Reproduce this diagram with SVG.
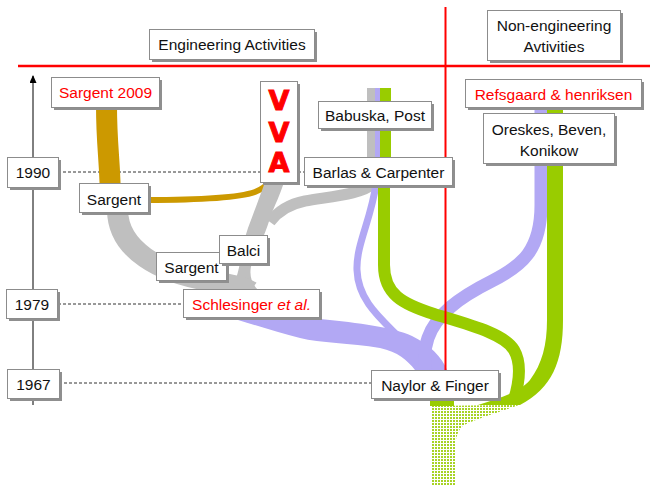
<svg xmlns="http://www.w3.org/2000/svg" width="650" height="486" viewBox="0 0 650 486">
  <style>
    .box { fill: #ffffff; stroke: #8c8c8c; stroke-width: 1; }
    .shadow { fill: #8f8f8f; }
    .t { font-family: "Liberation Sans", Arial, sans-serif; font-size: 15.5px; fill: #111111; text-anchor: middle; }
    .red { fill: #ff0000; }
    .vva { font-family: "DejaVu Sans", sans-serif; font-weight: bold; font-size: 27px; fill: #ff0000; stroke: #ff0000; stroke-width: 1; text-anchor: middle; }
    .dash { stroke: #333333; stroke-width: 1; stroke-dasharray: 3 2; fill: none; }
    .s { fill: none; stroke-linecap: butt; }
    .gold { stroke: #cc9900; }
    .gray { stroke: #bfbfbf; }
    .lav { stroke: #b2a8f4; }
    .grn { stroke: #99cc00; }
  </style>
  <defs>
    <pattern id="dots" width="3" height="3" patternUnits="userSpaceOnUse">
      <rect width="2" height="2" fill="#99cc00" fill-opacity="0.85"/>
    </pattern>
    <marker id="arrow" markerWidth="8" markerHeight="7" refX="7" refY="3.5" orient="auto" markerUnits="userSpaceOnUse">
      <path d="M0,0 L8,3.5 L0,7 Z" fill="#000000"/>
    </marker>
  </defs>

  <!-- time axis and guide lines -->
  <g id="axis">
    <line x1="33" y1="405" x2="33" y2="76" stroke="#000000" stroke-width="1" marker-end="url(#arrow)"/>
    <line class="dash" x1="58" y1="172" x2="304" y2="172"/>
    <line class="dash" x1="58" y1="304" x2="183" y2="304"/>
    <line class="dash" x1="59" y1="383" x2="371" y2="383"/>
  </g>

  <!-- streams -->
  <g id="connectors">
    <!-- gold -->
    <path class="s gold" stroke-width="21" d="M106.5,105 C106.5,150 110.5,160 110.5,206"/>
    <path class="s gold" stroke-width="6" d="M146,200 C190,200 235,199 255,192 C263,189 268,184 271,180"/>

    <!-- gray -->
    <path fill="#bfbfbf" d="M265,182 L284,182 C280,195 275,205 271,215 C266,232 258,250 252,263 C249,272 250,282 258,290 L230,290 C236,282 238,272 240,263 C242,250 244,240 248,228 C254,212 260,196 265,182 Z"/>
    <path class="s gray" stroke-width="11" d="M373,184 C362,194 335,196 305,201 C290,204 278,211 270,222"/>
    <path class="s gray" stroke-width="21" d="M117.5,210 C118,250 160,273 210,281 C230,284 245,287 250,291"/>
    <rect x="367" y="88" width="8" height="98" fill="#bfbfbf"/>

    <!-- lavender -->
    <rect x="375" y="88" width="5" height="98" fill="#b2a8f4"/>
    <path fill="#b2a8f4" d="M235,315 L320,319 C360,323 392,327 412,336 C430,345 442,357 447,370 L415,370 C407,360 398,352 380,348 C350,343 320,343 300,338 C280,333 258,326 238,320 Z"/>
    <path class="s lav" stroke-width="7" d="M376,184 C371,220 356,245 357,270 C358,300 380,318 398,336"/>
    <path class="s lav" stroke-width="13" d="M541,105 L541,205 C541,250 522,266 492,281 C458,298 436,315 428,338 C424,350 424,362 426,370"/>

    <!-- green -->
    <rect x="380" y="88" width="11" height="98" fill="#99cc00"/>
    <path class="s grn" stroke-width="12" d="M384,184 L384,265 C384,294 402,304 434,314 C470,325 505,334 514,350 C521,362 520,380 514,400"/>
    <path fill="#99cc00" d="M547,105 L563,105 L563,320 C563,362 552,388 520,405 L478,405 C500,398 520,392 530,380 C542,364 547,345 547,320 Z"/>
    <rect x="430" y="396" width="24" height="10" fill="#99cc00"/>
    <path fill="url(#dots)" d="M431,406 L519,405 C500,412 478,418 464,425 C457,430 455,440 455,452 L455,486 L431,486 Z"/>
  </g>

  <!-- section dividers -->
  <g id="dividers">
    <line x1="18" y1="66" x2="650" y2="66" stroke="#ff0000" stroke-width="2.5"/>
    <line x1="445.5" y1="7" x2="445.5" y2="370" stroke="#ff0000" stroke-width="2"/>
  </g>

  <!-- headers -->
  <g id="hdr-engineering">
    <rect class="shadow" x="152" y="32" width="165" height="30"/>
    <rect class="box" x="149.5" y="29.5" width="165" height="30"/>
    <text class="t" x="232" y="49.5">Engineering Activities</text>
  </g>
  <g id="hdr-nonengineering">
    <rect class="shadow" x="490" y="13" width="133" height="50"/>
    <rect class="box" x="487.5" y="10.5" width="133" height="50"/>
    <text class="t" x="554" y="30.5">Non-engineering</text>
    <text class="t" x="554" y="51.5">Avtivities</text>
  </g>

  <!-- years -->
  <g id="y1990">
    <rect class="shadow" x="10" y="160" width="51" height="30"/>
    <rect class="box" x="7.5" y="157.5" width="51" height="30"/>
    <text class="t" x="33" y="177.5">1990</text>
  </g>
  <g id="y1979">
    <rect class="shadow" x="9" y="292" width="51" height="29"/>
    <rect class="box" x="6.5" y="289.5" width="51" height="29"/>
    <text class="t" x="32" y="309.5">1979</text>
  </g>
  <g id="y1967">
    <rect class="shadow" x="10" y="372" width="52" height="29"/>
    <rect class="box" x="7.5" y="369.5" width="52" height="29"/>
    <text class="t" x="33.5" y="389.5">1967</text>
  </g>

  <!-- engineering nodes -->
  <g id="sargent2009">
    <rect class="shadow" x="54" y="80" width="108" height="30"/>
    <rect class="box" x="51.5" y="77.5" width="108" height="30"/>
    <text class="t red" x="105.5" y="98">Sargent 2009</text>
  </g>
  <g id="vva">
    <rect class="shadow" x="263" y="84" width="37" height="101"/>
    <rect class="box" x="260.5" y="81.5" width="37" height="101"/>
    <text class="vva" x="279" y="110">V</text>
    <text class="vva" x="279" y="142">V</text>
    <text class="vva" x="279" y="172">A</text>
  </g>
  <g id="babuska">
    <rect class="shadow" x="321" y="104" width="113" height="27"/>
    <rect class="box" x="318.5" y="101.5" width="113" height="27"/>
    <text class="t" x="375" y="120.5">Babuska, Post</text>
  </g>
  <g id="barlas">
    <rect class="shadow" x="307" y="160" width="148" height="28"/>
    <rect class="box" x="304.5" y="157.5" width="148" height="28"/>
    <text class="t" x="378.5" y="177.5">Barlas &amp; Carpenter</text>
  </g>
  <g id="sargent-a">
    <rect class="shadow" x="82" y="186" width="69" height="29"/>
    <rect class="box" x="79.5" y="183.5" width="69" height="29"/>
    <text class="t" x="114" y="204.5">Sargent</text>
  </g>
  <g id="sargent-b">
    <rect class="shadow" x="159" y="255" width="70" height="28"/>
    <rect class="box" x="156.5" y="252.5" width="70" height="28"/>
    <text class="t" x="191.5" y="272.5">Sargent</text>
  </g>
  <g id="balci">
    <rect class="shadow" x="222" y="238" width="48" height="28"/>
    <rect class="box" x="219.5" y="235.5" width="48" height="28"/>
    <text class="t" x="243.5" y="255.5">Balci</text>
  </g>
  <g id="schlesinger">
    <rect class="shadow" x="186" y="292" width="136" height="28"/>
    <rect class="box" x="183.5" y="289.5" width="136" height="28"/>
    <text class="t red" x="251.5" y="309.5">Schlesinger <tspan font-style="italic">et al.</tspan></text>
  </g>
  <g id="naylor">
    <rect class="shadow" x="374" y="373" width="127" height="28"/>
    <rect class="box" x="371.5" y="370.5" width="127" height="28"/>
    <text class="t" x="435" y="390.5">Naylor &amp; Finger</text>
  </g>

  <!-- non-engineering nodes -->
  <g id="refsgaard">
    <rect class="shadow" x="468" y="82" width="176" height="28"/>
    <rect class="box" x="465.5" y="79.5" width="176" height="28"/>
    <text class="t red" x="553.5" y="99.5">Refsgaard &amp; henriksen</text>
  </g>
  <g id="oreskes">
    <rect class="shadow" x="486" y="116" width="131" height="50"/>
    <rect class="box" x="483.5" y="113.5" width="131" height="50"/>
    <text class="t" x="549" y="134.5">Oreskes, Beven,</text>
    <text class="t" x="549" y="155.5">Konikow</text>
  </g>
</svg>
